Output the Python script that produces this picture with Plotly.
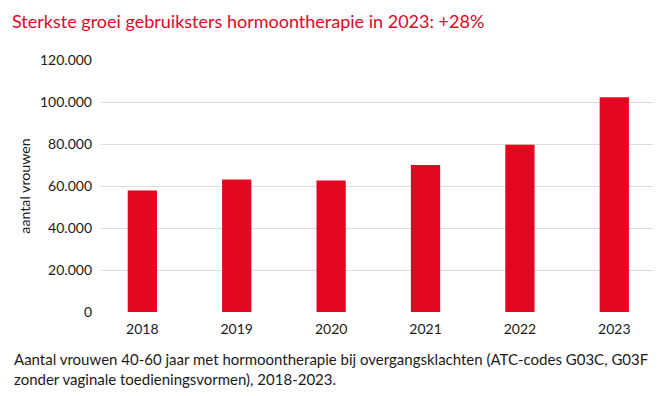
import plotly.graph_objects as go

years = ["2018", "2019", "2020", "2021", "2022", "2023"]
users = [57800, 63100, 62600, 70000, 79600, 102300]
y_ticks = [0, 20000, 40000, 60000, 80000, 100000, 120000]
y_tick_labels = ["0", "20.000", "40.000", "60.000", "80.000", "100.000", "120.000"]

title_text = "Sterkste groei gebruiksters hormoontherapie in 2023: +28%"
y_title = "aantal vrouwen"
caption = ("Aantal vrouwen 40-60 jaar met hormoontherapie bij overgangsklachten (ATC-codes G03C, G03F<br>"
           "zonder vaginale toedieningsvormen), 2018-2023.")

RED = "#E2071F"
FONT = "Lato"
W, H = 666, 396
OFF = 8  # browser default body margin
# desired plot area in page pixels: x 101..653, y 60..312
L = 101 - OFF
T = 60 - OFF
R = W - (653 - OFF)
B = H - (312 - OFF)
PW = W - L - R
PH = H - T - B


def px_x(p):
    return (p - OFF - L) / PW


def px_y(p):
    return 1 - (p - OFF - T) / PH


fig = go.Figure(go.Bar(
    x=years, y=users, marker=dict(color=RED, line=dict(width=0)),
    width=0.31, hoverinfo="skip",
))

fig.update_layout(
    width=W, height=H,
    margin=dict(l=L, r=R, t=T, b=B, autoexpand=False),
    paper_bgcolor="white", plot_bgcolor="white",
    font=dict(family=FONT, size=14, color="#1a1a1a"),
    showlegend=False,
    xaxis=dict(
        type="category", range=[-0.438, 5.41],
        showgrid=False, showline=False, zeroline=False,
        ticks="", tickfont=dict(size=14, color="#1a1a1a"),
        ticklabelstandoff=7,
    ),
    yaxis=dict(
        range=[0, 120000], tickvals=y_ticks, ticktext=y_tick_labels,
        showgrid=True, gridcolor="#DCDCDC", gridwidth=1.2,
        zeroline=False, showline=False, ticks="",
        tickfont=dict(size=14, color="#1a1a1a"),
        ticklabelstandoff=8,
        title=dict(text=y_title, font=dict(size=14.2, color="#1a1a1a"), standoff=5),
    ),
    annotations=[
        dict(text=title_text, xref="paper", yref="paper",
             x=px_x(10), y=px_y(8),
             xanchor="left", yanchor="top", showarrow=False,
             font=dict(size=18, color=RED, family=FONT)),
        dict(text=caption, xref="paper", yref="paper",
             x=px_x(12), y=px_y(348),
             xanchor="left", yanchor="top", align="left", showarrow=False,
             font=dict(size=15, color="#1a1a1a", family=FONT)),
    ],
)

fig.write_html("out.html")
